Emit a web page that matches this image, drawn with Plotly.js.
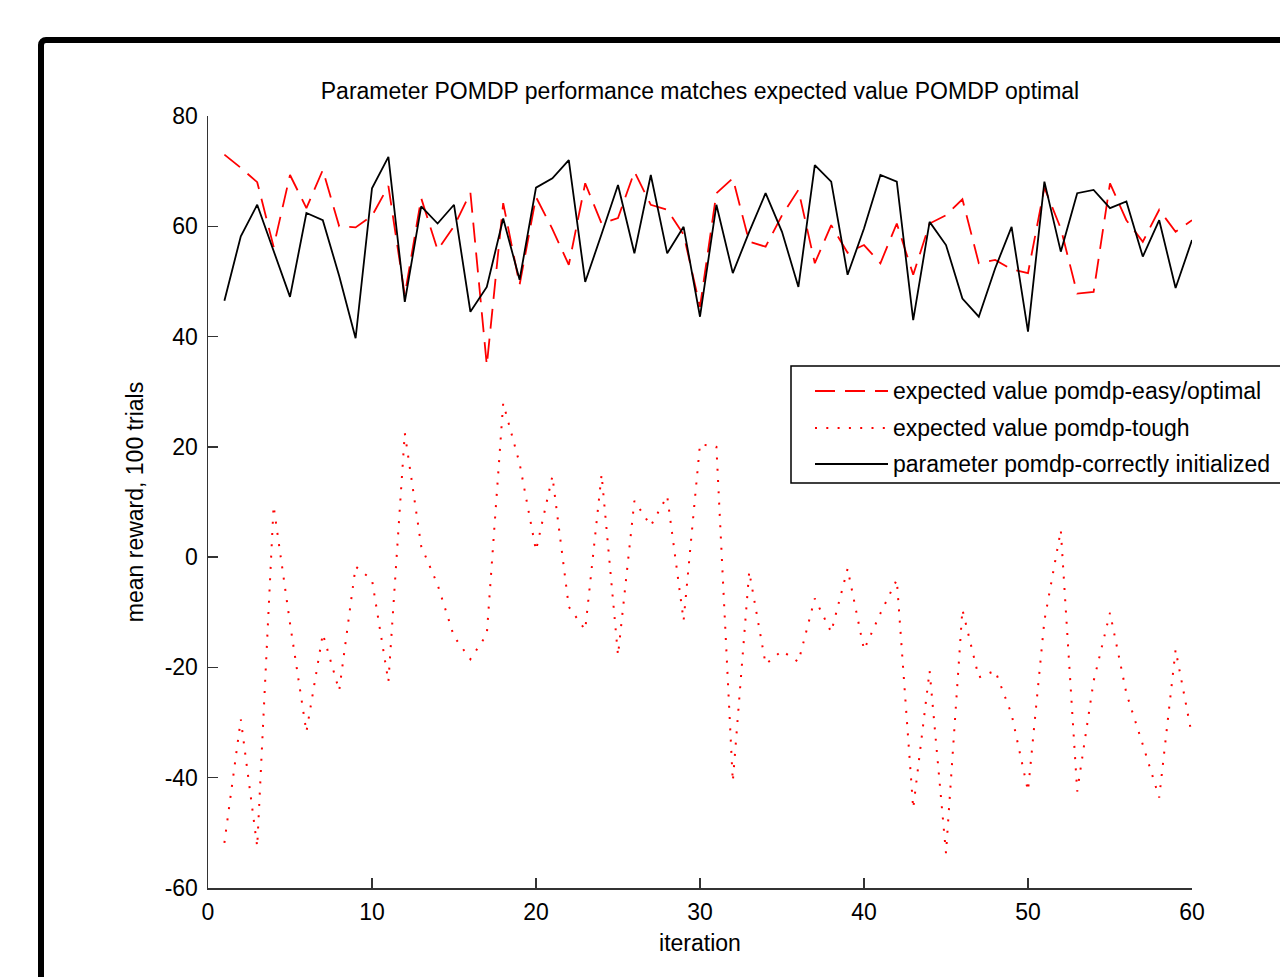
<!DOCTYPE html>
<html>
<head>
<meta charset="utf-8">
<script src="https://cdn.plot.ly/plotly-3.0.1.min.js"></script>
<style>
  html, body { margin: 0; padding: 0; background: #fff; overflow: hidden; width: 1280px; height: 977px; }
  #chart { position: absolute; left: 0; top: 0; width: 1280px; height: 977px; }
  #frame { position: absolute; left: 38px; top: 37px; width: 2000px; height: 2000px;
           border: 6px solid #000; border-radius: 8px; pointer-events: none; z-index: 10; }
</style>
</head>
<body>
<div id="chart"></div>
<div id="frame"></div>
<script>
const iteration = [1,2,3,4,5,6,7,8,9,10,11,12,13,14,15,16,17,18,19,20,
  21,22,23,24,25,26,27,28,29,30,31,32,33,34,35,36,37,38,39,40,
  41,42,43,44,45,46,47,48,49,50,51,52,53,54,55,56,57,58,59,60];

const easyOptimal = [73,70.6,68,56.3,69.3,63.3,70.2,60,59.8,61.9,
  67.3,47.5,65.1,55.7,60,66.1,34.8,64.2,49.4,65.3,
  59.5,53,67.8,60.5,61.5,69.9,63.9,63,58.5,45.4,
  66,68.7,57.2,56.3,62,66.6,53.3,60.2,55.2,56.6,
  53.3,60.5,51.2,60.5,62,64.9,53.3,53.9,52.2,51.5,
  67,59.6,47.8,48.1,67.8,61.1,57.2,63,59,61.1];

const tough = [-51.8,-29.4,-52.5,9.3,-12,-31.7,-13.9,-24.2,-1.7,-4.1,
  -22.6,22.5,2,-5,-14.4,-18.5,-14,27.9,17,1.2,
  14.7,-9,-13.2,15,-17.8,10.2,5.7,11.1,-11.5,20.5,
  20,-40.7,-2.6,-19.4,-17,-19,-7.5,-13.6,-2.1,-16.8,
  -10.2,-4.1,-45.6,-20.6,-53.7,-9.5,-21.8,-20.6,-28.5,-42.4,
  -11.5,4.9,-42.5,-22.5,-10.1,-24.7,-34,-43.6,-16.8,-32.4];

const paramCorrect = [46.5,58.2,63.9,55.6,47.2,62.4,61.1,51,39.7,66.9,
  72.6,46.3,63.6,60.5,63.9,44.5,49,61.4,50.3,67,
  68.7,72,49.9,58.6,67.5,55.1,69.3,55.1,59.9,43.6,
  63.9,51.5,59,66,59,49,71.1,68.1,51.2,59.6,
  69.3,68.1,43,60.8,56.6,46.9,43.6,52.4,59.9,40.9,
  68.1,55.4,66,66.6,63.3,64.5,54.5,61.1,48.8,57.5];

const seriesNames = ['expected value pomdp-easy/optimal',
                     'expected value pomdp-tough',
                     'parameter pomdp-correctly initialized'];

const xTickVals = [0,10,20,30,40,50,60];
const xTickText = ['0','10','20','30','40','50','60'];
const yTickVals = [-60,-40,-20,0,20,40,60,80];
const yTickText = ['-60','-40','-20','0','20','40','60','80'];

const FONT = 'Liberation Sans, Arial, Helvetica, sans-serif';
const RED = '#ff0000';
const DASH_EASY = '20px,10px';
const DASH_TOUGH = '2px,9.3px';

const traces = [
  { x: iteration, y: easyOptimal, type: 'scatter', mode: 'lines', name: seriesNames[0],
    line: { color: RED, width: 1.8, dash: DASH_EASY } },
  { x: iteration, y: tough, type: 'scatter', mode: 'lines', name: seriesNames[1],
    line: { color: RED, width: 2, dash: DASH_TOUGH } },
  { x: iteration, y: paramCorrect, type: 'scatter', mode: 'lines', name: seriesNames[2],
    line: { color: '#000', width: 1.8 } }
];

// plot area: x 208..1192 px, y 116..888 px
const L = 208, R = 1192, T = 116, B = 888;
const px = v => (v - L) / (R - L);
const py = v => (B - v) / (B - T);

const legendRows = [391, 428, 464];
const legendDash = [DASH_EASY, DASH_TOUGH, 'solid'];
const legendColor = [RED, RED, '#000'];
const legendWidth = [1.8, 2, 1.8];

const shapes = [
  { type: 'rect', xref: 'paper', yref: 'paper', x0: px(791), x1: px(1400), y0: py(483), y1: py(366),
    line: { color: '#000', width: 1.5 }, fillcolor: '#fff', layer: 'above' }
];
const annotations = [];
legendRows.forEach((r, i) => {
  shapes.push({ type: 'line', xref: 'paper', yref: 'paper', x0: px(815), x1: px(888), y0: py(r), y1: py(r),
    line: { color: legendColor[i], width: legendWidth[i], dash: legendDash[i] }, layer: 'above' });
  annotations.push({ xref: 'paper', yref: 'paper', x: px(891), y: py(r), xanchor: 'left', yanchor: 'middle',
    text: seriesNames[i], showarrow: false, font: { family: FONT, size: 23, color: '#000' } });
});

const layout = {
  width: 1280, height: 977,
  margin: { l: 208, r: 88, t: 116, b: 89, autoexpand: false },
  paper_bgcolor: '#fff', plot_bgcolor: '#fff',
  showlegend: false,
  font: { family: FONT, size: 23, color: '#000' },
  title: { text: 'Parameter POMDP performance matches expected value POMDP optimal',
           x: 0.5, xref: 'paper', xanchor: 'center', y: 1 - 91/977, yref: 'container', yanchor: 'middle',
           font: { family: FONT, size: 23, color: '#000' } },
  xaxis: { range: [0, 60], tickvals: xTickVals, ticktext: xTickText,
           ticks: 'inside', ticklen: 10, tickwidth: 1.5, tickcolor: '#333',
           showline: true, linecolor: '#333', linewidth: 1.5, mirror: false,
           showgrid: false, zeroline: false, ticklabelstandoff: 3,
           tickfont: { family: FONT, size: 23, color: '#000' },
           title: { text: 'iteration', font: { family: FONT, size: 23, color: '#000' }, standoff: 11 } },
  yaxis: { range: [-60, 80], tickvals: yTickVals, ticktext: yTickText,
           ticks: 'inside', ticklen: 10, tickwidth: 1.5, tickcolor: '#333',
           showline: true, linecolor: '#333', linewidth: 1.5, mirror: false,
           showgrid: false, zeroline: false, ticklabelstandoff: 4,
           tickfont: { family: FONT, size: 23, color: '#000' },
           title: { text: 'mean reward, 100 trials', font: { family: FONT, size: 23, color: '#000' }, standoff: 14 } },
  shapes: shapes,
  annotations: annotations
};

Plotly.newPlot('chart', traces, layout, { staticPlot: true, displayModeBar: false });
</script>
</body>
</html>
